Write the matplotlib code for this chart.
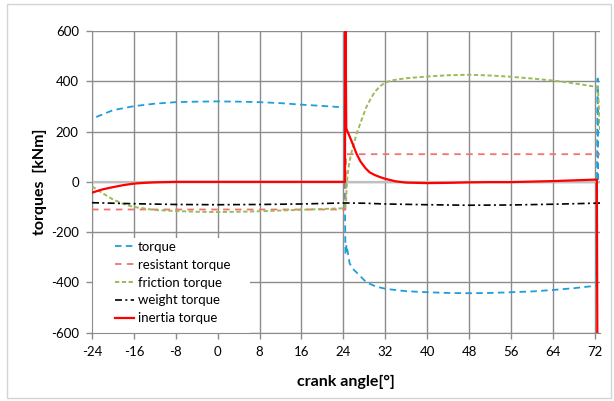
import matplotlib.pyplot as plt
from matplotlib.patches import Rectangle

# crank angle [deg] / torque [kNm]
torque_x = [-23.2, -20, -16, -12, -8, -4, 0, 4, 8, 12, 16, 20, 24.2, 24.3, 24.4, 24.6,
            25.2, 26.0, 26.8, 28.4, 30.3, 32.2, 36, 40, 44, 48, 52, 56, 60, 64, 68, 72.3, 72.55, 72.65]
torque_y = [258, 285, 301, 311, 317, 319, 320, 319, 317, 313, 307, 302, 296, -100, -290, -250,
            -325, -350, -366, -400, -417, -426, -435, -439, -442, -443, -442, -439, -436, -430, -423, -413, 411, 0]

resist_x = [-24, 24.4, 24.5, 73]
resist_y = [-110, -110, 110, 110]

friction_x = [-24, -22, -20, -18, -16, -12, -8, -4, 0, 4, 8, 12, 16, 20, 24.3, 24.5, 24.7,
              25.0, 25.4, 25.9, 26.5, 27.1, 27.8, 28.4, 29.2, 30.0, 31.0, 31.9, 33.0, 34.2, 36,
              40, 44, 48, 52, 56, 60, 64, 68, 72.3, 72.6, 73.0]
friction_y = [-18, -45, -70, -88, -100, -112, -116, -119, -120, -119, -117, -114, -111, -108, -105, -80, 5,
              60, 105, 145, 190, 225, 265, 298, 330, 358, 380, 394, 402, 407, 412,
              419, 424, 426, 423, 418, 411, 403, 392, 378, 376, 199]

weight_x = [-24, -16, -8, 0, 8, 16, 24, 28, 32, 40, 48, 56, 64, 72, 73]
weight_y = [-83, -87, -90, -91, -90, -88, -84, -85, -88, -91, -93, -92, -89, -85, -84]

inertia_x = [-24, -22, -20, -18, -16, -14, -12, -10, -8, 0, 8, 16, 24.3, 24.36, 24.45, 24.55,
             25.0, 25.5, 25.9, 26.5, 27.3, 28.2, 29, 30, 31, 32, 34, 36, 40, 44, 48, 52, 56, 60,
             64, 68, 72.4, 72.5]
inertia_y = [-43, -30, -21, -13, -7, -4, -2, -1, 0, 0, 0, 0, 0, 700, 520, 212,
             190, 165, 145, 112, 80, 55, 38, 27, 19, 12, 2, -3, -5, -4, -2, -1, -1, 1,
             3, 6, 9, -700]

x_ticks = list(range(-24, 73, 8))
y_ticks = list(range(-600, 601, 200))

plt.rcParams['font.family'] = ['Lato', 'DejaVu Sans']
plt.rcParams['axes.unicode_minus'] = False

fig = plt.figure(figsize=(6.14, 4.01), dpi=100)
fig.patches.append(Rectangle((7 / 614, 3 / 401), 604 / 614, 394 / 401, transform=fig.transFigure,
                             fill=False, edgecolor='#d4d4d4', linewidth=1))
ax = fig.add_axes([92 / 614, 1 - 332.7 / 401, 508 / 614, 301.7 / 401])

grid_col = '#8c8c8c'
ax.set_axisbelow(True)
ax.grid(True, color=grid_col, linewidth=1)
ax.axhline(0, color='#bfbfbf', linewidth=1.6, zorder=0.8)

# white box behind the legend, hides the grid like in the original
ax.add_patch(Rectangle((0, 0), 158 / 508, 0.314, transform=ax.transAxes,
                       facecolor='white', edgecolor='none', zorder=1))

ax.plot(torque_x, torque_y, color='#1e9fd9', lw=1.3, dashes=(3.6, 2.4), label='torque', zorder=3)
ax.plot(resist_x, resist_y, color='#f27272', lw=1.3, dashes=(3.6, 3.0), label='resistant torque', zorder=3)
ax.plot(friction_x, friction_y, color='#9bbb59', lw=1.4, dashes=(2.2, 1.3), label='friction torque', zorder=3)
ax.plot(weight_x, weight_y, color='black', lw=1.2, dashes=(4.2, 2, 1.2, 2), label='weight torque', zorder=3)
ax.plot(inertia_x, inertia_y, color='#ff0000', lw=1.6, label='inertia torque', zorder=4)

ax.set_xlim(-24, 73)
ax.set_ylim(-600, 600)
ax.set_xticks(x_ticks)
ax.set_yticks(y_ticks)
ax.tick_params(colors=grid_col, labelcolor='black', labelsize=9.5, length=4.5, width=1)
ax.tick_params(axis='y', pad=5)
ax.tick_params(axis='x', pad=5)
for s in ['top', 'right']:
    ax.spines[s].set_visible(False)
for s in ['left', 'bottom']:
    ax.spines[s].set_color(grid_col)

ax.set_xlabel('crank angle[°]', fontsize=11.5, fontweight='bold', labelpad=12)
ax.set_ylabel('torques  [kNm]', fontsize=11.5, fontweight='bold', labelpad=3)

ax.legend(loc='upper left', bbox_to_anchor=(0.046, 0.305), frameon=False, fontsize=9.5,
          borderpad=0, borderaxespad=0, handlelength=1.45, handletextpad=0.25, labelspacing=0.45)

fig.savefig('out.png', dpi=100)
